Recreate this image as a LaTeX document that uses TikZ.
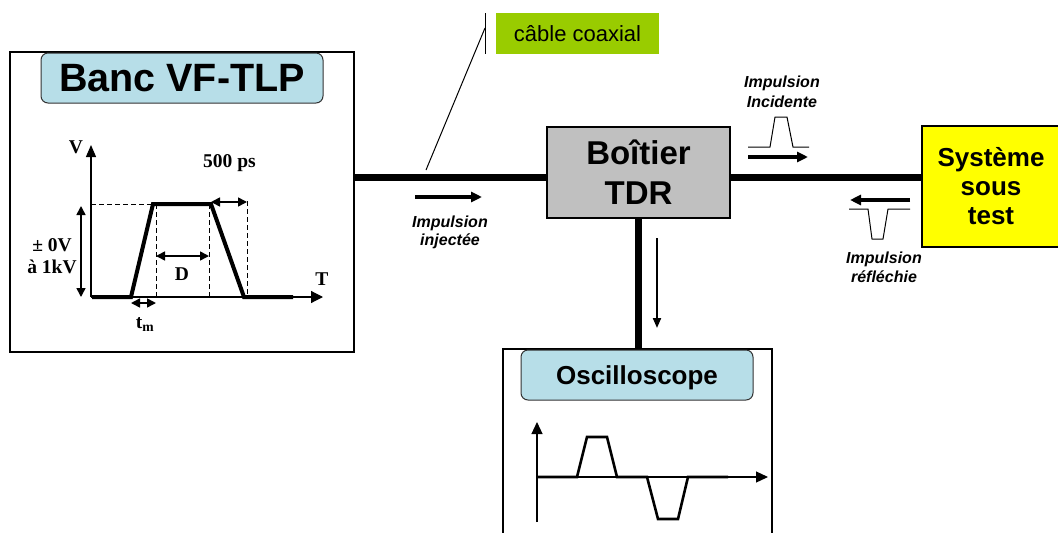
\documentclass[tikz,border=0pt]{standalone}
\usepackage{fontspec}
\setmainfont{Liberation Serif}
\setsansfont{Liberation Sans}
\usetikzlibrary{arrows.meta}
\definecolor{titlefill}{HTML}{B7DEE8}
\definecolor{tdrgray}{HTML}{C0C0C0}
\definecolor{sutyellow}{HTML}{FFFF00}
\definecolor{cablegreen}{HTML}{99CC00}
\begin{document}
\begin{tikzpicture}[x=1pt,y=-1pt,
  panel/.style={draw=black, line width=1.3pt, inner sep=0pt},
  titlebox/.style={draw=black!80, line width=1pt, rounded corners=7pt, fill=titlefill, inner sep=0pt, text depth=0pt},
  cable/.style={line width=7pt},
  axis/.style={line width=1.2pt, -{Triangle[length=12pt,width=10pt]}},
  dim/.style={line width=1.6pt, {Triangle[length=9pt,width=9pt]}-{Triangle[length=9pt,width=9pt]}},
  dash line/.style={line width=0.9pt, dash pattern=on 5pt off 3pt},
  pulse/.style={line width=4pt},
  wave/.style={line width=2.6pt},
  thinwave/.style={line width=1pt},
  flow/.style={line width=3.3pt, -{Triangle[length=11pt,width=10pt]}},
  glab/.style={font=\bfseries\fontsize{19.5}{22}\selectfont, anchor=base, inner sep=0pt},
  ilab/.style={font=\sffamily\bfseries\itshape\fontsize{16}{18}\selectfont, anchor=base, inner sep=0pt}
]
\useasboundingbox (0,0) rectangle (1058,533);
\clip (0,0) rectangle (1058,533);
\coordinate (cy) at (0,177);

% boxes
\node[panel, minimum width=344pt, minimum height=300pt] (banc) at (182,202) {};
\node[panel, minimum width=269pt, minimum height=220pt] (osc) at (637.5,459) {};
\node[panel, fill=tdrgray, minimum width=183pt, minimum height=91pt, align=center,
      font=\sffamily\bfseries\fontsize{33}{40}\selectfont] (tdr) at (638.5,172.5) {Boîtier\\TDR};
\node[panel, fill=sutyellow, minimum width=138pt, minimum height=121pt, align=center,
      font=\sffamily\bfseries\fontsize{26}{29}\selectfont] (sut) at (991,186.5) {Système\\sous\\test};

% cables
\draw[cable] (banc.east |- cy) -- (tdr.west |- cy);
\draw[cable] (tdr.east |- cy) -- (sut.west |- cy);
\draw[cable] (tdr.south) -- (tdr.south |- osc.north);

% titles
\node[titlebox, minimum width=282pt, minimum height=50pt,
      font=\sffamily\bfseries\fontsize{39.5}{44}\selectfont] (banctitle) at (182,78) {Banc VF-TLP};
\node[titlebox, minimum width=232pt, minimum height=50pt,
      font=\sffamily\bfseries\fontsize{26}{30}\selectfont] (osctitle) at (637,375) {Oscilloscope};

% cable label
\node[fill=cablegreen, minimum width=163pt, minimum height=41pt, inner sep=0pt,
      font=\sffamily\fontsize{22}{26}\selectfont] (coax) at (577.5,33.5) {câble coaxial};
\coordinate (bar top) at (485,13);
\coordinate (bar bot) at (485,54);
\coordinate (lead start) at (485,28);
\coordinate (lead end) at (426,170);
\draw[line width=1pt] (bar top) -- (bar bot);
\draw[line width=1pt] (lead start) -- (lead end);

% TLP graph
\coordinate (O) at (91,297);
\coordinate (Vtip) at (91,145);
\coordinate (Ttip) at (323,297);
\draw[axis] (O) -- (Vtip);
\draw[axis, -{Triangle[length=12pt,width=12pt]}] (O) -- (Ttip);
\draw[dash line] (91,204) -- (153,204);
\draw[dash line] (156,204) -- (156,297);
\draw[dash line] (209,204) -- (209,297);
\draw[dash line] (247,201) -- (247,297);
\draw[pulse, line join=miter] (92,297) -- (131,297) -- (153,204) -- (211,204) -- (244,297) -- (293,297);
\draw[dim] (81,206) -- (81,297);
\draw[dim] (156,256) -- (209,256);
\draw[dim] (211,202) -- (247,202);
\draw[dim] (131,303) -- (156,303);
\node[glab] (lV) at (76,153) {V};
\node[glab] (lT) at (322,285) {T};
\node[glab] (l500) at (229.5,167) {500 ps};
\node[glab] (lD) at (182,280) {D};
\node[glab] (ltm) at (145,328) {t\textsubscript{m}};
\node[glab] (lamp1) at (52,251) {± 0V};
\node[glab] (lamp2) at (52,273) {à 1kV};

% oscilloscope graph
\coordinate (oO) at (537,477);
\draw[axis, -{Triangle[length=12pt,width=11pt]}] (537,522) -- (537,422);
\draw[axis, -{Triangle[length=12pt,width=11pt]}] (oO) -- (768,477);
\draw[wave] (oO) -- (577,477) -- (587,437) -- (607,437) -- (617,477) -- (647,477) -- (658,519) -- (678,519) -- (688,477) -- (728,477);

% flow arrows and pulses
\draw[flow] (415,197) -- (482,197);
\node[ilab] (inj1) at (450,227) {Impulsion};
\node[ilab] (inj2) at (450,245) {injectée};

\draw[thinwave] (748,147) -- (770,147) -- (775,117) -- (787,117) -- (793,147) -- (809,147);
\draw[flow] (748,157) -- (808,157);
\node[ilab] (inc1) at (782,87) {Impulsion};
\node[ilab] (inc2) at (782,107) {Incidente};

\draw[flow] (910,200) -- (850,200);
\draw[thinwave] (849,209) -- (868,209) -- (872,239) -- (883,239) -- (888,209) -- (910,209);
\node[ilab] (ref1) at (884,263) {Impulsion};
\node[ilab] (ref2) at (884,282) {réfléchie};

\draw[line width=2pt, -{Triangle[length=10pt,width=8pt]}] (657,238) -- (657,328);
\end{tikzpicture}
\end{document}
